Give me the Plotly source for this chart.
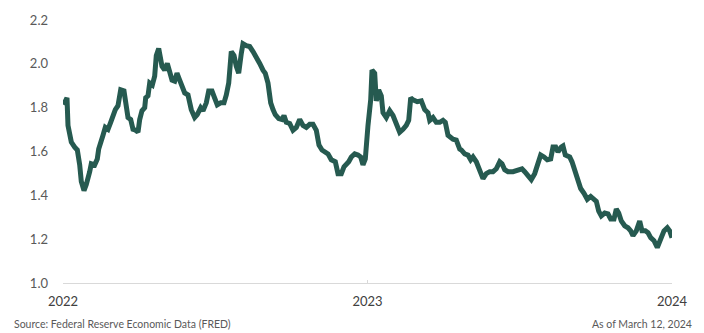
import plotly.graph_objects as go

# decimal-year positions (axis spans 2022 -> 2024 as drawn) and values
x_years = [
    2022.0016, 2022.0131, 2022.0164, 2022.0273, 2022.0384, 2022.0470, 2022.0548, 2022.0601, 2022.0690, 2022.0765,
    2022.0877, 2022.0929, 2022.1041, 2022.1126, 2022.1172, 2022.1258, 2022.1314, 2022.1389, 2022.1478, 2022.1566,
    2022.1642, 2022.1718, 2022.1806, 2022.1895, 2022.2003, 2022.2079, 2022.2135, 2022.2223, 2022.2299, 2022.2388,
    2022.2463, 2022.2519, 2022.2594, 2022.2683, 2022.2716, 2022.2791, 2022.2847, 2022.2933, 2022.3011, 2022.3064,
    2022.3143, 2022.3251, 2022.3340, 2022.3425, 2022.3504, 2022.3580, 2022.3668, 2022.3744, 2022.3832, 2022.3908,
    2022.3997, 2022.4105, 2022.4213, 2022.4325, 2022.4410, 2022.4522, 2022.4598, 2022.4706, 2022.4785, 2022.4893,
    2022.4982, 2022.5067, 2022.5179, 2022.5287, 2022.5363, 2022.5442, 2022.5527, 2022.5616, 2022.5691, 2022.5770,
    2022.5855, 2022.5911, 2022.6019, 2022.6131, 2022.6240, 2022.6348, 2022.6460, 2022.6568, 2022.6643, 2022.6732,
    2022.6821, 2022.6897, 2022.6972, 2022.7084, 2022.7192, 2022.7258, 2022.7333, 2022.7445, 2022.7553, 2022.7662,
    2022.7773, 2022.7882, 2022.7990, 2022.8102, 2022.8210, 2022.8319, 2022.8407, 2022.8506, 2022.8594, 2022.8703,
    2022.8811, 2022.8943, 2022.9031, 2022.9140, 2022.9228, 2022.9304, 2022.9383, 2022.9468, 2022.9580, 2022.9688,
    2022.9777, 2022.9852, 2022.9928, 2023.0016, 2023.0105, 2023.0148, 2023.0236, 2023.0289, 2023.0368, 2023.0453,
    2023.0509, 2023.0617, 2023.0729, 2023.0837, 2023.0946, 2023.1057, 2023.1166, 2023.1274, 2023.1353, 2023.1419,
    2023.1494, 2023.1635, 2023.1767, 2023.1878, 2023.1987, 2023.2043, 2023.2151, 2023.2259, 2023.2371, 2023.2479,
    2023.2555, 2023.2644, 2023.2808, 2023.2916, 2023.3028, 2023.3080, 2023.3192, 2023.3300, 2023.3389, 2023.3465,
    2023.3573, 2023.3685, 2023.3793, 2023.3901, 2023.4013, 2023.4122, 2023.4230, 2023.4342, 2023.4417, 2023.4506,
    2023.4614, 2023.4778, 2023.4887, 2023.4998, 2023.5074, 2023.5163, 2023.5271, 2023.5379, 2023.5491, 2023.5599,
    2023.5688, 2023.5796, 2023.5904, 2023.6016, 2023.6092, 2023.6181, 2023.6256, 2023.6364, 2023.6420, 2023.6496,
    2023.6640, 2023.6716, 2023.6804, 2023.6890, 2023.7001, 2023.7110, 2023.7218, 2023.7330, 2023.7406, 2023.7514,
    2023.7593, 2023.7678, 2023.7790, 2023.7898, 2023.7987, 2023.8095, 2023.8171, 2023.8250, 2023.8335, 2023.8447,
    2023.8555, 2023.8644, 2023.8719, 2023.8828, 2023.8939, 2023.9015, 2023.9123, 2023.9212, 2023.9300, 2023.9409,
    2023.9517, 2023.9629, 2023.9737, 2023.9846, 2023.9924, 2024.0000,
]

values = [
    1.813, 1.845, 1.719, 1.643, 1.620, 1.607, 1.539, 1.463, 1.422, 1.449,
    1.508, 1.544, 1.539, 1.566, 1.611, 1.643, 1.674, 1.710, 1.701, 1.733,
    1.768, 1.791, 1.809, 1.881, 1.876, 1.822, 1.755, 1.746, 1.701, 1.697,
    1.688, 1.746, 1.786, 1.800, 1.845, 1.854, 1.912, 1.903, 1.944, 2.038,
    2.070, 1.989, 1.971, 2.002, 1.971, 1.926, 1.921, 1.957, 1.926, 1.899,
    1.867, 1.858, 1.791, 1.755, 1.768, 1.800, 1.786, 1.822, 1.876, 1.876,
    1.836, 1.813, 1.822, 1.822, 1.858, 1.912, 2.056, 2.038, 1.989, 1.957,
    2.047, 2.092, 2.083, 2.079, 2.056, 2.034, 2.002, 1.971, 1.957, 1.912,
    1.822, 1.791, 1.768, 1.750, 1.746, 1.764, 1.733, 1.728, 1.697, 1.710,
    1.746, 1.719, 1.710, 1.724, 1.724, 1.697, 1.629, 1.607, 1.598, 1.589,
    1.562, 1.553, 1.499, 1.499, 1.530, 1.539, 1.553, 1.575, 1.589, 1.584,
    1.575, 1.539, 1.566, 1.719, 1.836, 1.971, 1.957, 1.831, 1.881, 1.854,
    1.777, 1.755, 1.786, 1.764, 1.719, 1.688, 1.701, 1.719, 1.742, 1.845,
    1.836, 1.827, 1.831, 1.791, 1.777, 1.742, 1.755, 1.733, 1.733, 1.742,
    1.733, 1.674, 1.656, 1.652, 1.611, 1.607, 1.589, 1.584, 1.562, 1.575,
    1.553, 1.508, 1.476, 1.499, 1.508, 1.508, 1.521, 1.553, 1.544, 1.517,
    1.508, 1.508, 1.512, 1.517, 1.521, 1.508, 1.485, 1.472, 1.499, 1.553,
    1.584, 1.575, 1.562, 1.566, 1.620, 1.620, 1.598, 1.620, 1.625, 1.584,
    1.575, 1.553, 1.517, 1.472, 1.431, 1.409, 1.382, 1.395, 1.386, 1.373,
    1.328, 1.306, 1.319, 1.315, 1.292, 1.292, 1.337, 1.319, 1.283, 1.261,
    1.252, 1.238, 1.216, 1.238, 1.283, 1.238, 1.238, 1.229, 1.207, 1.193,
    1.162, 1.202, 1.238, 1.252, 1.238, 1.207,
]

x_tick_vals = [2022, 2023, 2024]
x_tick_text = ["2022", "2023", "2024"]
y_tick_vals = [1.0, 1.2, 1.4, 1.6, 1.8, 2.0, 2.2]
y_tick_text = ["1.0", "1.2", "1.4", "1.6", "1.8", "2.0", "2.2"]

source_text = "Source: Federal Reserve Economic Data (FRED)"
asof_text = "As of March 12, 2024"

fig = go.Figure()
fig.add_trace(go.Scatter(
    x=x_years, y=values, mode="lines",
    line=dict(color="#265A50", width=5, shape="linear"),
    hoverinfo="skip", showlegend=False,
))

fig.update_layout(
    width=704, height=333,
    margin=dict(l=63, r=32, t=16, b=50),
    paper_bgcolor="white", plot_bgcolor="white",
    font=dict(family="Lato, Open Sans, sans-serif", size=13, color="#595959"),
    xaxis=dict(
        range=[2022, 2024], tickvals=x_tick_vals, ticktext=x_tick_text,
        showgrid=False, zeroline=False, showline=True, linecolor="#D9D9D9", linewidth=1,
        ticks="inside", ticklen=3, tickcolor="#D9D9D9",
        ticklabelstandoff=6,
        tickfont=dict(size=13, color="#404040"),
    ),
    yaxis=dict(
        range=[1.0, 2.2], tickvals=y_tick_vals, ticktext=y_tick_text,
        showgrid=False, zeroline=False, showline=False, ticks="",
        ticklabelstandoff=14,
        tickfont=dict(size=13, color="#595959"),
    ),
    annotations=[
        dict(text=source_text, x=0, xref="paper", xanchor="left", xshift=-51,
             y=0, yref="paper", yanchor="middle", yshift=-41, showarrow=False,
             font=dict(size=10.5, color="#595959")),
        dict(text=asof_text, x=1, xref="paper", xanchor="right", xshift=22,
             y=0, yref="paper", yanchor="middle", yshift=-41, showarrow=False,
             font=dict(size=10.5, color="#595959")),
    ],
)

fig.write_html("out.html")
